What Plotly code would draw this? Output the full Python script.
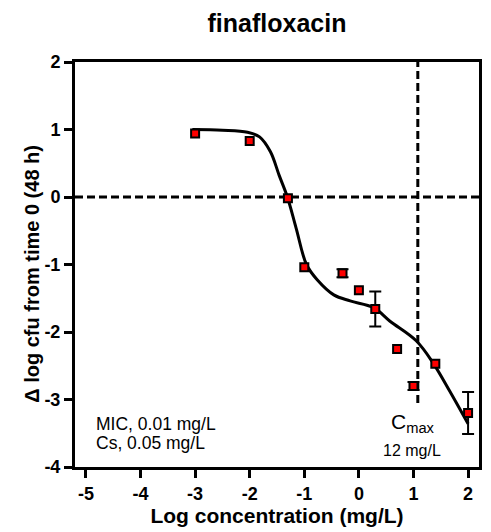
import math
import plotly.graph_objects as go

# ---- data ----
conc_log = [-3.0, -2.0, -1.3, -1.0, -0.3, 0.0, 0.3, 0.7, 1.0, 1.4, 2.0]
delta_log_cfu = [0.94, 0.83, -0.02, -1.04, -1.13, -1.38, -1.66, -2.25, -2.80, -2.47, -3.20]
err_sd = [0.0, 0.0, 0.0, 0.0, 0.06, 0.0, 0.26, 0.0, 0.06, 0.0, 0.31]

fit_x = [-3.05, -2.5, -2.04, -1.82, -1.62, -1.46, -1.31, -1.15, -0.96, -0.76,
         -0.46, -0.16, 0.27, 0.57, 1.05, 1.36, 1.66, 2.0]
fit_y = [1.0, 0.99, 0.96, 0.89, 0.67, 0.32, 0.0, -0.46, -1.0, -1.23,
         -1.45, -1.54, -1.64, -1.84, -2.13, -2.46, -2.87, -3.36]

cmax_mg_l = 12
cmax_line_bottom = -3.05
x_ticks = [-5, -4, -3, -2, -1, 0, 1, 2]
y_ticks = [-4, -3, -2, -1, 0, 1, 2]

FONT = "Liberation Sans, Arial, sans-serif"

eb_idx = [i for i, e in enumerate(err_sd) if e > 0]

fig = go.Figure()
fig.add_trace(go.Scatter(
    x=fit_x, y=fit_y, mode="lines",
    line=dict(color="black", width=3, shape="spline", smoothing=1.0),
    hoverinfo="skip", showlegend=False))
fig.add_trace(go.Scatter(
    x=[conc_log[i] for i in eb_idx], y=[delta_log_cfu[i] for i in eb_idx],
    mode="markers", marker=dict(size=1, color="rgba(0,0,0,0)"),
    error_y=dict(type="data", array=[err_sd[i] for i in eb_idx],
                 color="black", thickness=2, width=6),
    showlegend=False))
fig.add_trace(go.Scatter(
    x=conc_log, y=delta_log_cfu, mode="markers",
    marker=dict(symbol="square", size=8, color="#ff0000",
                line=dict(color="black", width=2)),
    showlegend=False))

cmax_log = math.log10(cmax_mg_l)
fig.add_shape(type="line", xref="paper", yref="y", x0=0, x1=1, y0=0, y1=0,
              line=dict(color="black", width=3, dash="8px,4px"), layer="below")
fig.add_shape(type="line", xref="x", yref="y", x0=cmax_log, x1=cmax_log,
              y0=cmax_line_bottom, y1=2,
              line=dict(color="black", width=3, dash="8px,4px"), layer="below")

fig.add_annotation(text="MIC, 0.01 mg/L", xref="paper", yref="paper",
                   x=0.046, y=0.077, xanchor="left", yanchor="bottom",
                   showarrow=False, font=dict(family=FONT, size=17.5, color="black"))
fig.add_annotation(text="Cs, 0.05 mg/L", xref="paper", yref="paper",
                   x=0.046, y=0.03, xanchor="left", yanchor="bottom",
                   showarrow=False, font=dict(family=FONT, size=17.5, color="black"))
fig.add_annotation(text="C<sub>max</sub>", xref="x", yref="paper",
                   x=cmax_log, y=0.072, xanchor="center", yanchor="bottom", xshift=-5,
                   showarrow=False, font=dict(family=FONT, size=21, color="black"))
fig.add_annotation(text=f"{cmax_mg_l} mg/L", xref="x", yref="paper",
                   x=cmax_log, y=0.016, xanchor="center", yanchor="bottom", xshift=-6,
                   showarrow=False, font=dict(family=FONT, size=16, color="black"))
fig.add_annotation(text="<b>Δ log cfu from time 0 (48 h)</b>", xref="paper", yref="paper",
                   x=(31.5 - 75) / 407, y=(470 - 276) / 407, xanchor="center", yanchor="middle",
                   textangle=-90, showarrow=False,
                   font=dict(family=FONT, size=20, color="black"))

fig.update_layout(
    width=491, height=532,
    margin=dict(l=75, r=9, t=62, b=62),
    paper_bgcolor="white", plot_bgcolor="white",
    title=dict(text="<b>finafloxacin</b>", x=0.5, xref="paper", y=0.957,
               yanchor="middle", font=dict(family=FONT, size=25, color="black")),
    font=dict(family=FONT, color="black"),
)
fig.update_xaxes(
    range=[-5.2, 2.2], tickvals=x_ticks, ticktext=[f"<b>{v}</b>" for v in x_ticks],
    ticks="outside", ticklen=8, tickwidth=2.5,
    tickcolor="black", showline=True, linewidth=3, linecolor="black", mirror=True,
    showgrid=False, zeroline=False,
    tickfont=dict(family=FONT, size=18, weight="bold", color="black"),
    title=dict(text="<b>Log concentration (mg/L)</b>", standoff=5,
               font=dict(family=FONT, size=21, color="black")))
fig.update_yaxes(
    range=[-4, 2], tickvals=y_ticks, ticktext=[f"<b>{v}</b>" for v in y_ticks],
    ticks="outside", ticklen=8, tickwidth=2.5,
    tickcolor="black", showline=True, linewidth=3, linecolor="black", mirror=True,
    showgrid=False, zeroline=False,
    tickfont=dict(family=FONT, size=18, weight="bold", color="black"))

fig.write_html("out.html")
